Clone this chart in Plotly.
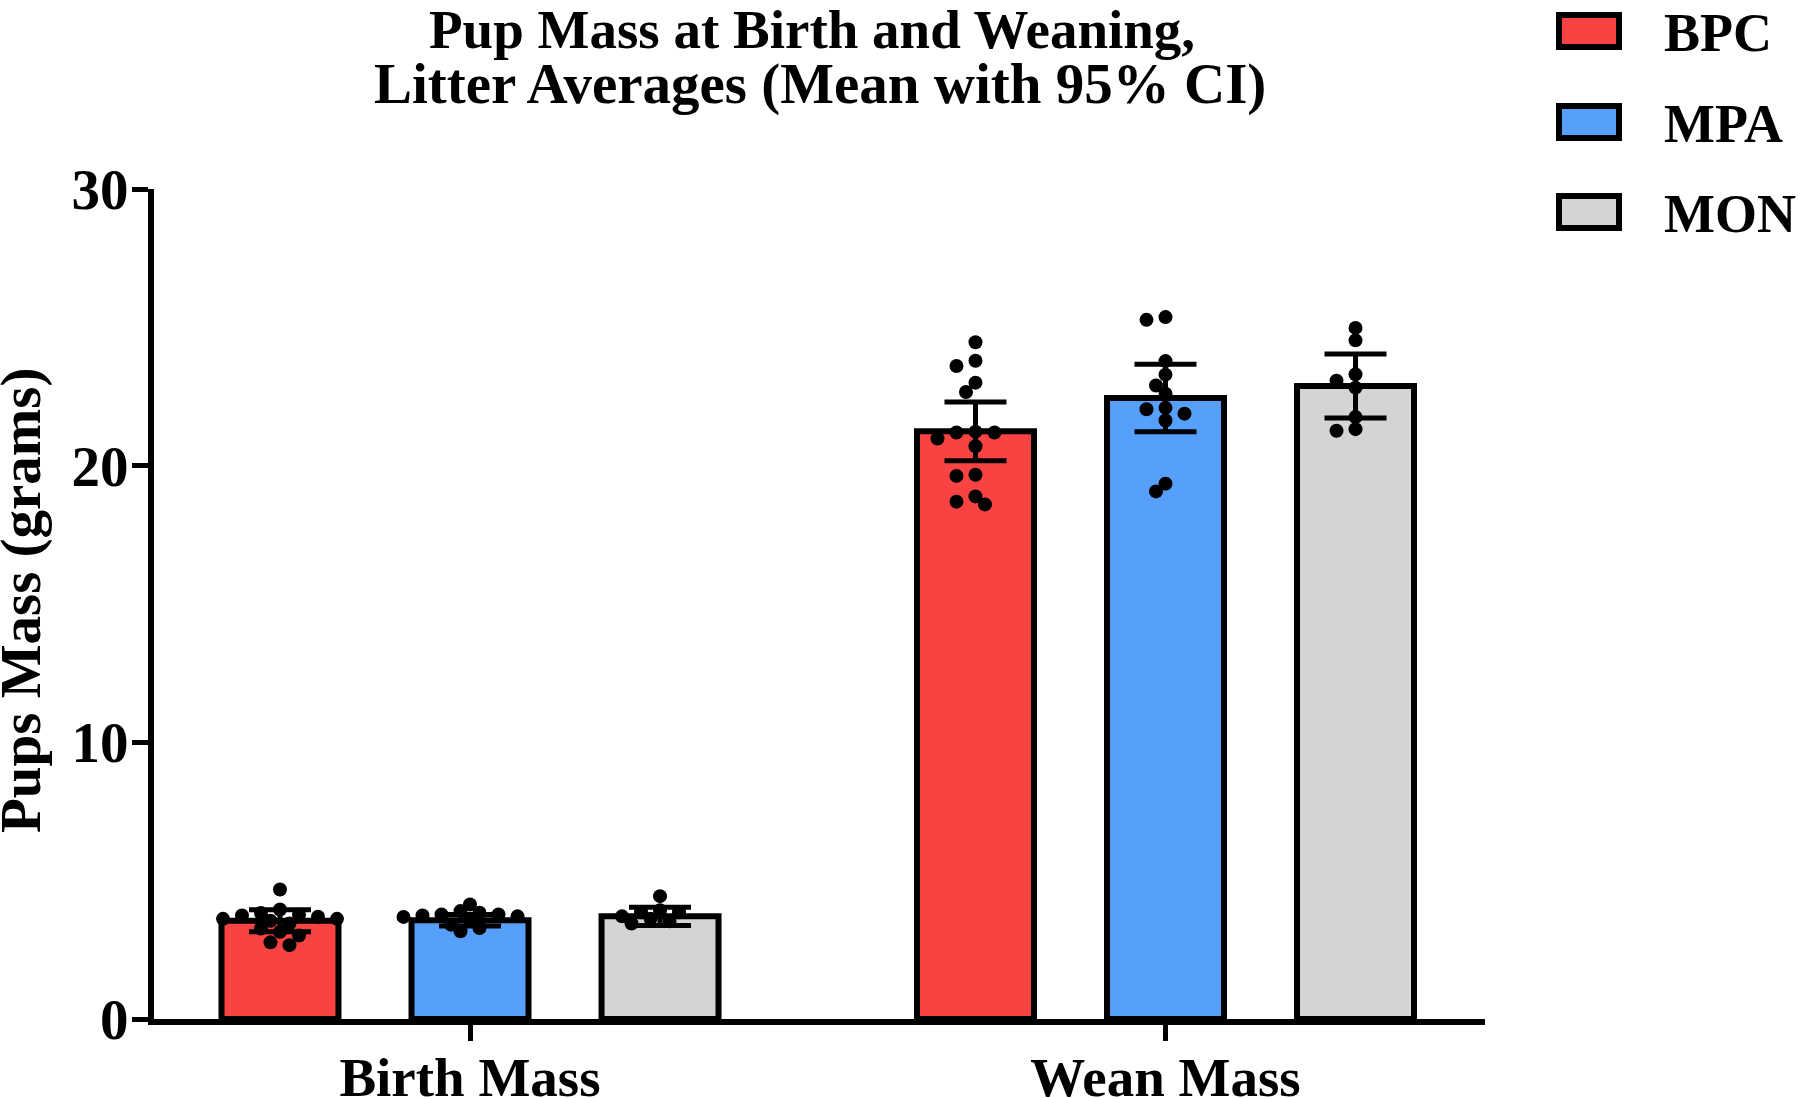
import plotly.graph_objects as go

# ---------------- data ----------------
groups = ["Birth Mass", "Wean Mass"]
series = ["BPC", "MPA", "MON"]
colors = {"BPC": "#F94242", "MPA": "#56A0FC", "MON": "#D4D4D4"}

bpc_mean = [3.55, 21.24]
mpa_mean = [3.57, 22.45]
mon_mean = [3.71, 22.88]

bpc_ci = [0.40, 1.06]
mpa_ci = [0.21, 1.22]
mon_ci = [0.33, 1.16]

bpc_birth = [4.68, 3.96, 3.77, 3.83, 3.62, 3.27, 3.02, 3.15, 2.67, 2.77, 3.45, 3.55, 3.62, 3.70, 3.74]
mpa_birth = [3.78, 3.69, 3.84, 4.14, 3.90, 3.71, 3.74, 3.78, 3.41, 3.17, 3.29, 3.59]
mon_birth = [4.44, 3.93, 3.86, 3.86, 3.62, 3.45, 3.53, 3.71]

bpc_wean = [24.46, 23.60, 23.79, 23.00, 22.66, 21.23, 21.20, 20.98, 21.20, 20.70, 19.67, 19.63, 18.89, 18.60, 18.70]
mpa_wean = [25.27, 25.37, 23.78, 23.29, 22.90, 22.60, 22.09, 22.04, 21.88, 21.63, 19.07, 19.35]
mon_wean = [24.98, 24.53, 23.30, 23.07, 22.82, 21.76, 21.26, 21.32]

y_ticks = [0, 10, 20, 30]

means = {"BPC": bpc_mean, "MPA": mpa_mean, "MON": mon_mean}
cis = {"BPC": bpc_ci, "MPA": mpa_ci, "MON": mon_ci}
points = {"BPC": [bpc_birth, bpc_wean], "MPA": [mpa_birth, mpa_wean], "MON": [mon_birth, mon_wean]}

# ---------------- layout constants ----------------
W, H = 1800, 1098
ML, MR, MT, MB = 154, 315, 189, 79
PW, PH = W - ML - MR, H - MT - MB
CAT0_PX = 470
PX_PER_X = 695.5
XMIN = -(CAT0_PX - ML) / PX_PER_X
XMAX = XMIN + PW / PX_PER_X
YMAX = 30
PX_PER_Y = PH / YMAX

BARGAP = 0.1804
BARGROUPGAP = 0.3843
SLOT = (1 - BARGAP) / len(series)

FONT = "Liberation Serif"


def px2paper_x(px):
    return (px - ML) / PW


def px2paper_y(py):
    return (H - MB - py) / PH


def swarm(vals, dot=11.5, step=9.5):
    """Simple beeswarm: horizontal offsets (data units) so dots don't overlap much."""
    order = sorted(range(len(vals)), key=lambda i: -vals[i])
    placed = []
    offs = [0.0] * len(vals)
    for i in order:
        y = vals[i] * PX_PER_Y
        cands = [0]
        for k in range(1, 40):
            cands += [-k, k]
        for c in cands:
            x = c * step
            if all((x - px) ** 2 + (y - py) ** 2 >= dot ** 2 for px, py in placed):
                break
        placed.append((x, y))
        offs[i] = x / PX_PER_X
    return offs


fig = go.Figure()

for s in series:
    fig.add_trace(go.Bar(
        name=s, x=[0, 1], y=means[s],
        marker=dict(color=colors[s], line=dict(color="black", width=6)),
        error_y=dict(type="data", array=cis[s], color="black", thickness=5, width=31),
        showlegend=False,
    ))

for si, s in enumerate(series):
    for gi in range(len(groups)):
        vals = points[s][gi]
        center = gi + (si - (len(series) - 1) / 2) * SLOT
        offs = swarm(vals)
        fig.add_trace(go.Scatter(
            x=[center + o for o in offs], y=vals, mode="markers",
            marker=dict(color="black", size=14, line=dict(width=0)),
            showlegend=False, hoverinfo="y",
        ))


def font(size):
    return dict(family=FONT, size=size, color="black", weight="bold")


fig.update_layout(
    width=W, height=H,
    margin=dict(l=ML, r=MR, t=MT, b=MB, autoexpand=False),
    paper_bgcolor="white", plot_bgcolor="white",
    barmode="group", bargap=BARGAP, bargroupgap=BARGROUPGAP,
    showlegend=False,
    xaxis=dict(range=[XMIN, XMAX], tickvals=[0, 1], ticktext=groups,
               showline=True, linecolor="black", linewidth=6,
               ticks="outside", ticklen=16, tickwidth=5, tickcolor="black",
               showgrid=False, zeroline=False, tickfont=font(55), automargin=False,
               ticklabelstandoff=-11),
    yaxis=dict(range=[0, YMAX], tickvals=y_ticks,
               showline=True, linecolor="black", linewidth=6,
               ticks="outside", ticklen=16, tickwidth=5, tickcolor="black",
               showgrid=False, zeroline=False, tickfont=font(57), automargin=False,
               ticklabelstandoff=-8),
)

annotations = [
    dict(text="Pup Mass at Birth and Weaning,", x=px2paper_x(812), y=px2paper_y(29),
         xanchor="center", yanchor="middle", font=font(55)),
    dict(text="Litter Averages (Mean with 95% CI)", x=px2paper_x(820), y=px2paper_y(84),
         xanchor="center", yanchor="middle", font=font(57)),
    dict(text="Pups Mass (grams)", x=px2paper_x(21), y=px2paper_y(600),
         xanchor="center", yanchor="middle", textangle=-90, font=font(57)),
]
shapes = []
leg_centers = [31, 122, 212]
for s, c in zip(series, leg_centers):
    shapes.append(dict(type="rect", xref="paper", yref="paper",
                       x0=px2paper_x(1559), x1=px2paper_x(1619),
                       y0=px2paper_y(c + 16), y1=px2paper_y(c - 16),
                       fillcolor=colors[s], line=dict(color="black", width=6)))
    annotations.append(dict(text=s, x=px2paper_x(1662), y=px2paper_y(c + 2),
                            xanchor="left", yanchor="middle", font=font(54)))

for a in annotations:
    a.update(xref="paper", yref="paper", showarrow=False)

fig.update_layout(annotations=annotations, shapes=shapes)

fig.write_html("out.html", config={"displayModeBar": False},
               post_script="document.body.style.margin='0';document.body.style.overflow='hidden';")
